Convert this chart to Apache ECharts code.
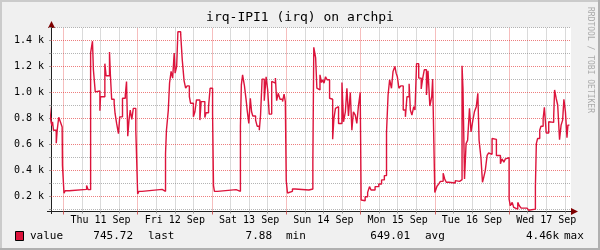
<!DOCTYPE html>
<html>
<head>
<meta charset="utf-8">
<script src="https://cdn.jsdelivr.net/npm/echarts@6/dist/echarts.min.js"></script>
<style>
  html, body { margin: 0; padding: 0; background: #f0f0f0; }
  #chart { width: 600px; height: 250px; }
</style>
</head>
<body>
<div id="chart"></div>
<script>
// hours since Thu 11 Sep 00:00, value holds until the next entry
const hours = [
  -4.5, -4.0, -3.7, -3.5, -3.2, -2.3, -2.0, -1.5, -0.9, -0.4, -0.3, 0.2, 0.6, 1.9, 7.5, 8.0,
  8.8, 9.4, 9.7, 10.3, 10.8, 11.8, 12.0, 13.4, 13.8, 14.9, 15.2, 15.6, 16.4, 16.7, 17.2, 17.8,
  18.2, 19.1, 20.0, 20.4, 20.8, 21.2, 21.6, 22.1, 22.6, 23.4, 24.0, 24.4, 25.4, 31.9, 33.0, 33.3,
  33.9, 34.3, 34.8, 35.3, 35.8, 36.1, 36.6, 37.0, 37.9, 38.4, 39.0, 39.5, 40.0, 40.7, 41.1, 42.0,
  42.5, 43.0, 44.1, 44.5, 45.7, 46.1, 46.9, 47.4, 48.2, 48.5, 48.8, 49.8,
  55.8, 57.2, 57.5, 57.9, 58.5, 59.1, 59.4, 59.9, 60.4, 60.8, 61.2, 62.1, 62.6, 63.3, 63.7, 64.2,
  64.9, 65.5, 66.0, 66.5, 67.3, 67.8, 68.5, 68.9, 69.4, 70.0, 70.8, 71.3, 71.7, 72.0, 72.4, 72.9,
  74.0, 74.9, 79.3, 79.9, 80.6, 80.9, 81.5, 81.9, 82.3, 82.9, 83.4, 83.8, 84.2, 84.7, 85.2, 86.0,
  86.6, 87.0, 87.4, 87.9, 88.3, 88.9, 90.0, 90.5, 91.1, 91.6, 92.1, 92.7, 93.2, 93.7, 94.3, 94.8,
  95.3, 95.9, 96.2, 96.6, 97.5, 98.3, 98.9, 99.4, 100.7, 101.9, 102.8, 103.7, 104.4, 104.9, 105.4, 106.0,
  106.5, 107.1, 107.5, 107.9, 108.4, 109.0, 109.8,
  110.5, 111.0, 111.7, 112.1, 112.6, 113.2, 113.6, 114.1, 114.8, 115.6, 116.1, 116.6, 117.3, 117.8, 118.4, 119.0,
  119.3, 119.7, 120.0, 120.3, 120.7, 121.3, 121.8, 122.7, 123.2, 123.7, 124.5, 126.6, 127.2, 128.0, 128.8, 129.1,
  129.6, 130.1, 130.6, 131.2, 131.7, 132.3, 132.8, 133.4, 133.9, 134.3, 134.9, 135.4, 135.8, 136.3, 136.9, 137.4,
  138.0, 138.5, 139.0, 139.9, 141.2, 141.7, 142.3, 142.8, 143.3, 144.0, 144.4, 145.0, 145.5, 146.0, 146.8, 147.3,
  147.9, 149.8, 150.3, 150.9, 152.5, 152.8, 153.2, 153.9, 154.3, 155.0, 155.4, 156.0, 156.8, 157.3, 158.4, 158.7,
  159.2, 159.7, 160.3, 160.8, 161.3, 161.7, 162.2, 162.7, 163.0, 163.5
]
const values = [
  890, 775, 745, 775, 710, 610, 710, 810, 770, 735, 440, 225, 245, 255, 285, 253,
  1305, 1395, 1175, 1005, 1012, 860, 968, 1222, 1129, 1312, 1129, 948, 917, 839, 762, 684,
  813, 956, 981, 1085, 664, 788, 865, 793, 878, 710, 219, 240, 255, 240, 529, 710,
  865, 1072, 1162, 1111, 1304, 1149, 1201, 1467, 1447, 1253, 1090, 1033, 1051, 968, 917, 813,
  852, 943, 788, 930, 808, 844, 891, 1033, 839, 284, 240, 253,
  240, 741, 1059, 1136, 1051, 930, 860, 762, 956, 852, 819, 788, 741, 710, 826, 1103,
  937, 1121, 1020, 834, 1085, 1072, 1111, 937, 994, 948, 930, 987, 930, 322, 227, 240,
  258, 250, 240, 258, 457, 1348, 1266, 1033, 1020, 1136, 1077, 1098, 1072, 1121, 1098, 956,
  948, 640, 800, 878, 891, 762, 1077, 775, 852, 1033, 819, 1000, 710, 852, 826, 762,
  891, 1000, 173, 168, 198, 232, 276, 250, 276, 297, 328, 361, 697, 981, 1098, 1033,
  1162, 1201, 1149, 1121, 1033, 1051, 865,
  813, 968, 1067, 865, 826, 891, 865, 1222, 1111, 1028, 1111, 1175, 981, 1167, 896, 968,
  1103, 607, 232, 250, 279, 297, 317, 379, 335, 310, 304, 322, 317, 330, 1206, 1033,
  335, 607, 633, 878, 697, 788, 852, 891, 994, 633, 500, 310, 348, 400, 516, 535,
  525, 646, 640, 516, 452, 490, 465, 490, 498, 180, 129, 155, 116, 103, 155, 129,
  111, 116, 95, 103, 276, 607, 646, 710, 741, 800, 886, 689, 775, 770, 808, 1020,
  956, 904, 638, 749, 788, 948, 852, 653, 749, 749
]
const dayLabels = ['Thu 11 Sep', 'Fri 12 Sep', 'Sat 13 Sep', 'Sun 14 Sep', 'Mon 15 Sep', 'Tue 16 Sep', 'Wed 17 Sep']
const dayNoons = [12, 36, 60, 84, 108, 132, 156]
const midnights = [0, 24, 48, 72, 96, 120, 144]
const sixHours = [6, 12, 18, 30, 36, 42, 54, 60, 66, 78, 84, 90, 102, 108, 114, 126, 132, 138, 150, 156, 162]
const yLabelValues = [200, 400, 600, 800, 1000, 1200, 1400]
const yMinorValues = [100, 300, 500, 700, 900, 1100, 1300, 1500]
const statValues = ['745.72', '7.88', '649.01', '4.46k']
const statNames = ['last', 'min', 'avg', 'max']

const font = 'DejaVu Sans Mono'
const lineColor = '#dc143c'
const minorColor = 'rgba(120,120,120,0.55)'
const majorColor = 'rgba(225,40,40,0.6)'

const points = hours.map((h, i) => [h, values[i]])

const gridLines = [
  ...sixHours.map(v => ({ xAxis: v, lineStyle: { color: minorColor } })),
  ...yMinorValues.map(v => ({ yAxis: v, lineStyle: { color: minorColor } })),
  ...midnights.map(v => ({ xAxis: v, lineStyle: { color: majorColor } })),
  ...yLabelValues.map(v => ({ yAxis: v, lineStyle: { color: majorColor } }))
]

// legend row built from the stats arrays
const statRight = [133, 272, 410, 559]
const statNameLeft = [148, 286, 425, 564]
const legendTexts = []
statValues.forEach((s, i) => {
  legendTexts.push({ type: 'text', x: statRight[i], y: 236, style: { text: s, font: '11px ' + font, fill: '#000', align: 'right', verticalAlign: 'middle' } })
  legendTexts.push({ type: 'text', x: statNameLeft[i], y: 236, style: { text: statNames[i], font: '11px ' + font, fill: '#000', align: 'left', verticalAlign: 'middle' } })
})

const chart = echarts.init(document.getElementById('chart'))
chart.setOption({
  animation: false,
  backgroundColor: '#f0f0f0',
  grid: {
    left: 51,
    right: 29,
    top: 27.5,
    bottom: 38.5,
    show: true,
    backgroundColor: '#fff',
    borderWidth: 0
  },
  xAxis: [
    {
      type: 'value',
      min: -4,
      max: 164,
      axisLine: { onZero: false, lineStyle: { color: '#202020', width: 1 } },
      axisTick: { customValues: sixHours, length: 2, lineStyle: { color: '#999' } },
      axisLabel: {
        customValues: dayNoons,
        formatter: v => dayLabels[Math.round((v - 12) / 24)],
        fontFamily: font,
        fontSize: 10,
        color: '#000',
        margin: 4
      },
      splitLine: { show: false }
    },
    {
      type: 'value',
      min: -4,
      max: 164,
      position: 'bottom',
      axisLine: { show: false, onZero: false },
      axisTick: { customValues: midnights, length: 3, lineStyle: { color: '#d06060' } },
      axisLabel: { show: false },
      splitLine: { show: false }
    }
  ],
  yAxis: {
    type: 'value',
    min: 85,
    max: 1500,
    axisLine: { show: true, onZero: false, lineStyle: { color: '#202020', width: 1 } },
    axisTick: { show: true, customValues: yMinorValues.concat(yLabelValues), length: 2, lineStyle: { color: '#999' } },
    axisLabel: {
      customValues: yLabelValues,
      formatter: v => (v / 1000).toFixed(1) + ' k',
      fontFamily: font,
      fontSize: 10,
      color: '#000',
      margin: 7
    },
    splitLine: { show: false }
  },
  series: [
    {
      name: 'grid',
      type: 'line',
      z: 1,
      data: [[-4, 85]],
      showSymbol: false,
      lineStyle: { width: 0 },
      silent: true,
      markLine: {
        z: 1,
        silent: true,
        symbol: ['none', 'none'],
        label: { show: false },
        lineStyle: { type: [1, 1], width: 1 },
        data: gridLines
      }
    },
    {
      name: 'value',
      type: 'line',
      z: 3,
      step: 'end',
      data: points,
      showSymbol: false,
      lineStyle: { color: lineColor, width: 1.4 }
    }
  ],
  graphic: [
    { type: 'rect', shape: { x: 0, y: 0, width: 600, height: 2 }, style: { fill: '#cbcbcb' } },
    { type: 'rect', shape: { x: 0, y: 0, width: 2, height: 250 }, style: { fill: '#cbcbcb' } },
    { type: 'rect', shape: { x: 0, y: 248, width: 600, height: 2 }, style: { fill: '#b0b0b0' } },
    { type: 'rect', shape: { x: 598, y: 0, width: 2, height: 250 }, style: { fill: '#b0b0b0' } },
    { type: 'text', x: 300, y: 18, style: { text: 'irq-IPI1 (irq) on archpi', font: '13px ' + font, fill: '#000', align: 'center', verticalAlign: 'middle' } },
    { type: 'text', x: 590, y: 60, rotation: -Math.PI / 2, style: { text: 'RRDTOOL / TOBI OETIKER', font: '8px ' + font, fill: '#aaa', align: 'center', verticalAlign: 'middle' } },
    { type: 'line', shape: { x1: 47, y1: 211.5, x2: 51, y2: 211.5 }, style: { stroke: '#202020', lineWidth: 1 } },
    { type: 'line', shape: { x1: 51.5, y1: 211, x2: 51.5, y2: 214 }, style: { stroke: '#202020', lineWidth: 1 } },
    { type: 'polygon', shape: { points: [[571, 208], [578, 211.5], [571, 215]] }, style: { fill: '#7f0000' } },
    { type: 'polygon', shape: { points: [[48, 28], [51.5, 21], [55, 28]] }, style: { fill: '#7f0000' } },
    { type: 'rect', shape: { x: 15.5, y: 231.5, width: 8, height: 9 }, style: { fill: lineColor, stroke: '#000', lineWidth: 1 } },
    { type: 'text', x: 30, y: 236, style: { text: 'value', font: '11px ' + font, fill: '#000', align: 'left', verticalAlign: 'middle' } },
    ...legendTexts
  ]
})
</script>
</body>
</html>
